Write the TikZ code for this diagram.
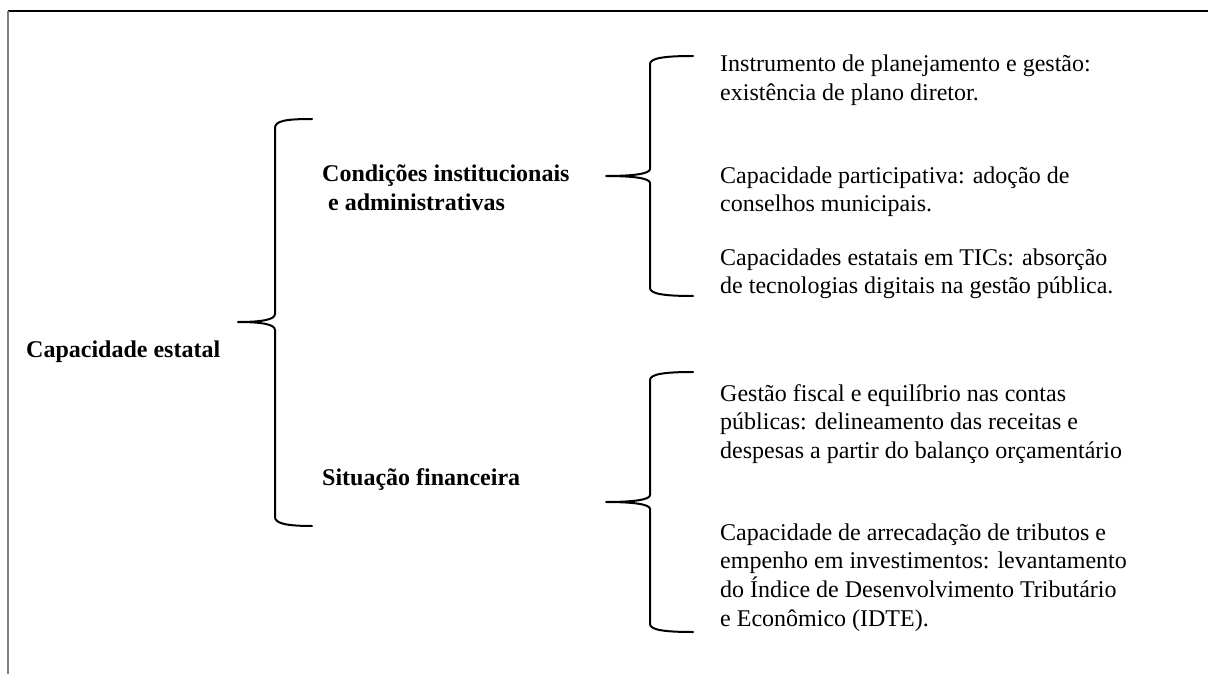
\documentclass[tikz,border=0pt]{standalone}
\usepackage{fontspec}
\setmainfont{Liberation Serif}
\newcommand{\lines}[1]{\begin{tabular}[t]{@{}l@{}}#1\end{tabular}}
\begin{document}
\begin{tikzpicture}[x=1pt,y=-1pt,
  txt/.style={anchor=base west,inner sep=0pt,font=\fontsize{24}{28.5}\selectfont},
  btxt/.style={txt,font=\fontsize{24}{28.5}\selectfont\bfseries},
  brace/.style={line width=2pt,line cap=round,line join=round}]
\useasboundingbox (0,0) rectangle (1208,674);
% frame
\draw[line width=1.5pt] (8,11) -- (1208,11);
\draw[line width=2pt,draw=black!50] (8,11) -- (8,674);
% labels
\node[btxt] (cap) at (26,357) {Capacidade estatal};
\node[btxt] (inst) at (322,182) {\lines{Condições institucionais\\\ e administrativas}};
\node[btxt] (fin) at (322,485) {Situação financeira};
\node[txt] (t1) at (720,72) {\lines{Instrumento de planejamento e gestão:\\existência de plano diretor.}};
\node[txt] (t2) at (720,183) {\lines{Capacidade participativa: adoção de\\conselhos municipais.}};
\node[txt] (t3) at (720,265) {\lines{Capacidades estatais em TICs: absorção\\de tecnologias digitais na gestão pública.}};
\node[txt] (t4) at (720,401) {\lines{Gestão fiscal e equilíbrio nas contas\\públicas: delineamento das receitas e\\despesas a partir do balanço orçamentário}};
\node[txt] (t5) at (720,540) {\lines{Capacidade de arrecadação de tributos e\\empenho em investimentos: levantamento\\do Índice de Desenvolvimento Tributário\\e Econômico (IDTE).}};
% brace 1
\draw[brace] (312,119) .. controls (285,119) and (275,121) .. (275,128) -- (275,314)
  .. controls (275,320) and (260,322) .. (238,322)
  .. controls (260,322) and (275,324) .. (275,330) -- (275,517)
  .. controls (275,523) and (285,526) .. (312,526);
% brace 2
\draw[brace] (693,56) .. controls (665,56) and (650,58) .. (650,64) -- (650,169)
  .. controls (650,174) and (632,176) .. (606,176)
  .. controls (632,176) and (650,178) .. (650,183) -- (650,288)
  .. controls (650,294) and (665,296) .. (693,296);
% brace 3
\draw[brace] (693,372) .. controls (665,372) and (650,374) .. (650,380) -- (650,495)
  .. controls (650,500) and (632,502) .. (606,502)
  .. controls (632,502) and (650,504) .. (650,509) -- (650,624)
  .. controls (650,630) and (665,632) .. (693,632);
\end{tikzpicture}
\end{document}
